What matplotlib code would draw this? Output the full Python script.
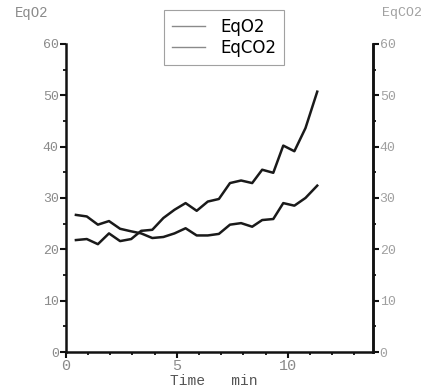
import matplotlib
matplotlib.use('Agg')
import matplotlib.pyplot as plt
from matplotlib.lines import Line2D

# time points (min)
time = [0.46, 0.95, 1.45, 1.95, 2.45, 2.95, 3.4, 3.9, 4.4, 4.9, 5.4, 5.9,
        6.4, 6.9, 7.4, 7.9, 8.4, 8.85, 9.35, 9.8, 10.3, 10.8, 11.33]
eqo2 = [21.8, 22.0, 21.0, 23.1, 21.6, 22.0, 23.6, 23.8, 26.1, 27.7, 29.0, 27.5,
        29.3, 29.8, 32.9, 33.4, 32.9, 35.5, 34.9, 40.2, 39.1, 43.6, 50.7]
eqco2 = [26.7, 26.4, 24.8, 25.5, 24.0, 23.5, 23.1, 22.2, 22.4, 23.1, 24.1, 22.7,
         22.7, 23.0, 24.8, 25.1, 24.4, 25.7, 25.9, 29.0, 28.5, 30.0, 32.4]
yticks = [0, 10, 20, 30, 40, 50, 60]
xticks = [0, 5, 10]

grey = '#8a8a8a'
mono = 'Liberation Mono'

fig = plt.figure(figsize=(4.38, 3.92), dpi=100)
ax = fig.add_axes([0.150, 0.102, 0.701, 0.786])

ax.plot(time, eqo2, color='#1a1a1a', lw=1.8)
ax.plot(time, eqco2, color='#1a1a1a', lw=1.8)

ax.set_xlim(0, 13.83)
ax.set_ylim(0, 60)
ax.set_xticks(xticks)
ax.set_xticks(range(0, 14), minor=True)
ax.set_yticks(yticks)
ax.set_yticks(range(5, 60, 10), minor=True)

ax.spines['top'].set_visible(False)
for s in ['left', 'bottom', 'right']:
    ax.spines[s].set_linewidth(1.8)
    ax.spines[s].set_color('#111111')

ax.tick_params(axis='both', which='major', direction='out', length=4, width=1.5,
               color='#111111', labelcolor=grey, labelsize=9.5, pad=1)
ax.tick_params(axis='both', which='minor', direction='out', length=2.5, width=1.3,
               color='#111111')
for lab in ax.get_xticklabels() + ax.get_yticklabels():
    lab.set_fontfamily(mono)
for lab in ax.get_xticklabels():
    lab.set_fontsize(11)

ax2 = ax.twinx()
ax2.set_ylim(0, 60)
ax2.set_yticks(yticks)
ax2.set_yticks(range(5, 60, 10), minor=True)
for s in ['top', 'left', 'bottom']:
    ax2.spines[s].set_visible(False)
ax2.spines['right'].set_linewidth(1.8)
ax2.spines['right'].set_color('#111111')
ax2.tick_params(axis='y', which='major', direction='out', length=4, width=1.5,
                color='#111111', labelcolor='#a0a0a0', labelsize=9.5, pad=1)
ax2.tick_params(axis='y', which='minor', direction='out', length=2.5, width=1.3,
                color='#111111')
for lab in ax2.get_yticklabels():
    lab.set_fontfamily(mono)

fig.text(0.072, 0.968, 'EqO2', color=grey, fontsize=10, family=mono,
         ha='center', va='center')
fig.text(0.918, 0.968, 'EqCO2', color='#a0a0a0', fontsize=9.5, family=mono,
         ha='center', va='center')
fig.text(0.487, 0.028, 'Time   min', color='#555555', fontsize=10.5, family=mono,
         ha='center', va='center')

handles = [Line2D([], [], color=grey, lw=1.0), Line2D([], [], color=grey, lw=1.0)]
leg = fig.legend(handles, ['EqO2', 'EqCO2'], loc='upper left',
                 bbox_to_anchor=(0.356, 0.995), fontsize=12, frameon=True,
                 fancybox=False, edgecolor=grey, handlelength=2.0,
                 borderpad=0.45, labelspacing=0.2, handletextpad=0.9)
leg.get_frame().set_linewidth(0.8)

fig.savefig('out.png', dpi=100)
